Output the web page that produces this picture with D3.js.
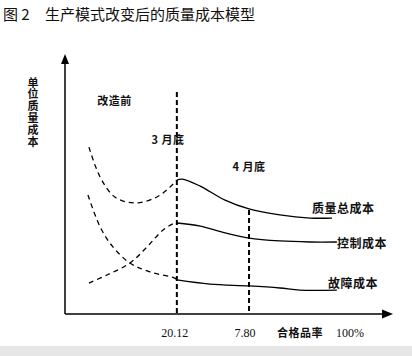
<!DOCTYPE html>
<html><head><meta charset="utf-8">
<script src="https://cdn.jsdelivr.net/npm/d3@7"></script>
<style>
html,body{margin:0;padding:0;background:#fff;}
svg{display:block;}
</style></head>
<body>
<script>
// ---- data ----
const title = "图 2";
const subtitle = "生产模式改变后的质量成本模型";
const yAxisLabel = "单位质量成本";
const xAxisLabel = "合格品率";
const xAxisEnd = "100%";
const phaseLabels = ["改造前", "3 月底", "4 月底"];
const markerX = [34.1, 56.1];          // positions of the 3月底 / 4月底 lines
const markerTop = [85.4, 40.0];        // top of each dashed marker line
const markerTicks = ["20.12", "7.80"];
const seriesNames = ["质量总成本", "控制成本", "故障成本"];
const totalCost = [[7.3,64.2],[10.7,52.7],[15.2,45.0],[21.3,42.7],[28.0,45.0],[32.0,48.8],[34.1,51.5],[35.7,51.9],[41.2,49.2],[48.8,43.8],[56.1,40.4],[65.5,38.1],[74.7,36.9],[81.4,36.9]];
const controlCost = [[7.3,11.9],[12.8,15.0],[19.8,19.6],[25.0,25.8],[29.9,32.3],[33.5,35.0],[34.1,35.0],[41.2,33.8],[48.8,31.2],[56.1,29.2],[65.5,28.1],[74.7,27.7],[82.9,27.7]];
const failureCost = [[7.0,45.8],[10.7,33.5],[14.6,25.8],[19.8,19.6],[25.9,16.2],[33.5,13.8],[34.1,13.1],[44.2,11.5],[56.1,10.8],[65.5,10.0],[71.6,9.2],[82.9,9.2]];

// ---- drawing ----
const W = 412, H = 356;
const svg = d3.select("body").append("svg").attr("width", W).attr("height", H);
svg.append("rect").attr("width", W).attr("height", H).attr("fill", "#fff");
svg.append("rect").attr("x", 0).attr("y", 346).attr("width", W).attr("height", 10).attr("fill", "#e6e6e6");

const x = d3.scaleLinear().domain([0, 100]).range([65, 393]);
const y = d3.scaleLinear().domain([0, 100]).range([314, 54]);
const cjk = "'Noto Sans CJK SC', 'Noto Sans', sans-serif";

// title
svg.append("text").attr("x", 3).attr("y", 20).attr("font-family", cjk).attr("font-size", 15).attr("fill", "#111").text(title);
svg.append("text").attr("x", 45).attr("y", 20).attr("font-family", cjk).attr("font-size", 15).attr("fill", "#111").text(subtitle);

// axes
svg.append("line").attr("x1", x(0)).attr("y1", y(0)).attr("x2", x(0)).attr("y2", y(100) + 6).attr("stroke", "#000").attr("stroke-width", 1.5);
svg.append("path").attr("d", `M${x(0)},${y(100)} L${x(0)-4},${y(100)+10} L${x(0)+4},${y(100)+10}Z`).attr("fill", "#000");
svg.append("line").attr("x1", x(0)).attr("y1", y(0)).attr("x2", x(100) - 6).attr("y2", y(0)).attr("stroke", "#000").attr("stroke-width", 1.5);
svg.append("path").attr("d", `M${x(100)},${y(0)} L${x(100)-11},${y(0)-4.5} L${x(100)-11},${y(0)+4.5}Z`).attr("fill", "#000");

// y axis label (vertical text, single element)
svg.append("text").attr("x", 33).attr("y", 77)
  .attr("writing-mode", "tb").style("writing-mode", "vertical-rl").attr("glyph-orientation-vertical", 0)
  .attr("letter-spacing", 0.8)
  .attr("font-family", cjk).attr("font-size", 11).attr("font-weight", "bold").attr("fill", "#111").text(yAxisLabel);

// marker lines
markerX.forEach((mx, i) => {
  svg.append("line").attr("x1", x(mx)).attr("x2", x(mx)).attr("y1", y(markerTop[i])).attr("y2", y(0))
    .attr("stroke", "#000").attr("stroke-width", 2).attr("stroke-dasharray", "5,3");
  svg.append("text").attr("x", x(mx) - 2 - i * 2).attr("y", 337).attr("text-anchor", "middle")
    .attr("font-family", "'Liberation Serif', serif").attr("font-size", 12).attr("fill", "#111").text(markerTicks[i]);
});

// x axis label
svg.append("text").attr("x", 277).attr("y", 337).attr("font-family", cjk).attr("font-size", 11).attr("font-weight", "bold").attr("letter-spacing", 0.5).attr("fill", "#111").text(xAxisLabel);
svg.append("text").attr("x", 336).attr("y", 337).attr("font-family", "'Liberation Serif', serif").attr("font-size", 12).attr("fill", "#111").text(xAxisEnd);

// phase labels
const phasePos = [[114.5, 105], [168, 144], [249, 171]];
phaseLabels.forEach((t, i) => {
  svg.append("text").attr("x", phasePos[i][0]).attr("y", phasePos[i][1]).attr("text-anchor", "middle")
    .attr("font-family", cjk).attr("font-size", 11).attr("font-weight", "bold").attr("letter-spacing", 0.5).attr("fill", "#111").text(t);
});

// curves
const line = d3.line().x(d => x(d[0])).y(d => y(d[1])).curve(d3.curveCatmullRom.alpha(0.5));
const split = markerX[0];
[totalCost, controlCost, failureCost].forEach(s => {
  const before = s.filter(d => d[0] <= split);
  const after = s.filter(d => d[0] >= split);
  svg.append("path").attr("d", line(before)).attr("fill", "none").attr("stroke", "#000")
    .attr("stroke-width", 1.3).attr("stroke-dasharray", "5,4");
  svg.append("path").attr("d", line(after)).attr("fill", "none").attr("stroke", "#000")
    .attr("stroke-width", 1.3);
});

// series labels
const labelOffsets = [[-20, -8], [0, 3], [-9, -5]];
[totalCost, controlCost, failureCost].forEach((s, i) => {
  const last = s[s.length - 1];
  svg.append("text").attr("x", x(last[0]) + labelOffsets[i][0]).attr("y", y(last[1]) + labelOffsets[i][1])
    .attr("font-family", cjk).attr("font-size", 12).attr("font-weight", "bold").attr("letter-spacing", 0.5)
    .attr("dominant-baseline", "middle").attr("fill", "#111").text(seriesNames[i]);
});
</script>
</body></html>
